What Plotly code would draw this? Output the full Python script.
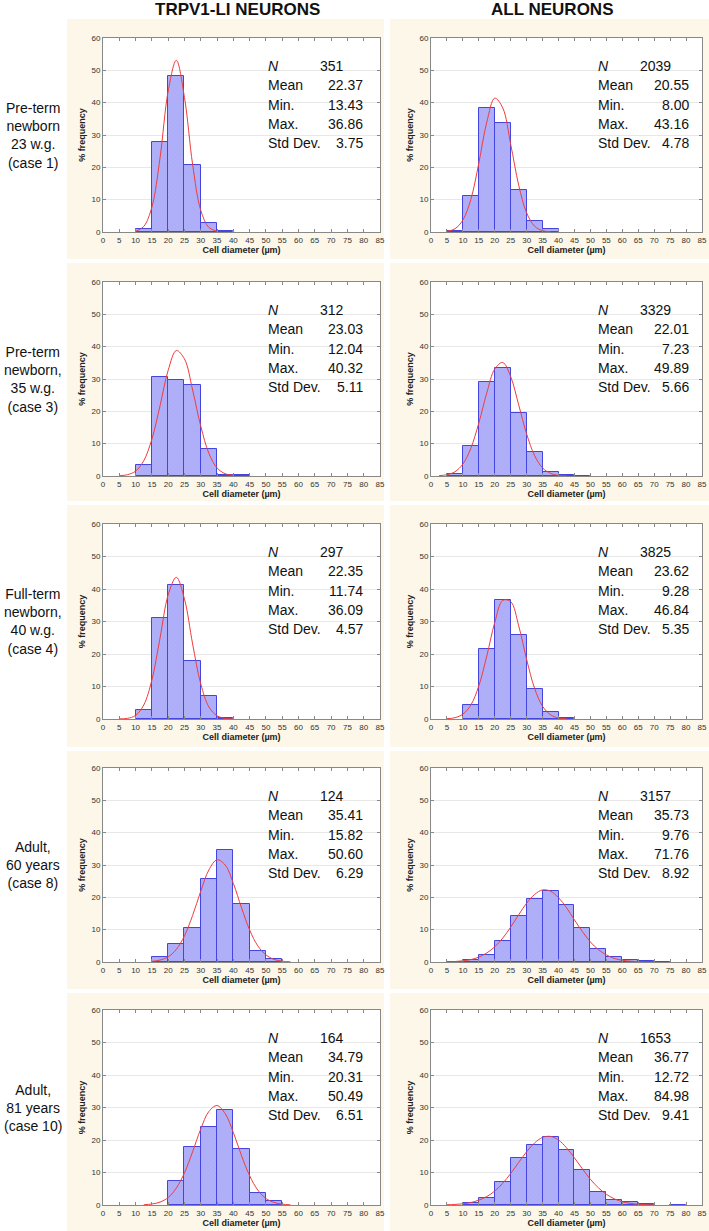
import plotly.graph_objects as go

o = None

# histogram bins (µm), 5 µm wide, 0-85
bin_mid = [2.5, 7.5, 12.5, 17.5, 22.5, 27.5, 32.5, 37.5, 42.5, 47.5,
           52.5, 57.5, 62.5, 67.5, 72.5, 77.5, 82.5]
x_ticks = [0, 5, 10, 15, 20, 25, 30, 35, 40, 45, 50, 55, 60, 65, 70, 75, 80, 85]
y_ticks = [0, 10, 20, 30, 40, 50, 60]

# % frequency per bin
trpv1_23wg = [0, 0, 0.9, 27.8, 48.1, 20.7, 2.7, 0.3, 0, 0, 0, 0, 0, 0, 0, 0, 0]
all_23wg = [0, 0.3, 11.0, 38.2, 33.6, 13.1, 3.5, 0.8, 0, 0, 0, 0, 0, 0, 0, 0, 0]
trpv1_35wg = [0, 0, 3.3, 30.5, 29.6, 28.0, 8.3, 0.3, 0.3, 0, 0, 0, 0, 0, 0, 0, 0]
all_35wg = [0, 0.5, 9.4, 29.0, 33.5, 19.4, 7.4, 1.3, 0.2, 0.1, 0, 0, 0, 0, 0, 0, 0]
trpv1_40wg = [0, 0, 2.8, 31.0, 41.2, 17.8, 7.1, 0.3, 0, 0, 0, 0, 0, 0, 0, 0, 0]
all_40wg = [0, 0, 4.3, 21.6, 36.6, 25.9, 9.1, 2.3, 0.4, 0, 0, 0, 0, 0, 0, 0, 0]
trpv1_60y = [0, 0, 0, 1.6, 5.7, 10.5, 25.8, 34.7, 17.8, 3.3, 0.8, 0, 0, 0, 0, 0, 0]
all_60y = [0, 0.1, 0.5, 2.3, 6.5, 14.3, 19.6, 21.9, 17.7, 10.4, 4.1, 1.5, 0.7, 0.2, 0.05, 0, 0]
trpv1_81y = [0, 0, 0, 0, 7.3, 17.9, 23.9, 29.3, 17.1, 3.7, 1.2, 0, 0, 0, 0, 0, 0]
all_81y = [0, 0, 0.5, 2.3, 7.0, 14.4, 18.6, 20.9, 16.9, 10.8, 4.1, 1.5, 0.8, 0.3, 0, 0.15, 0]

curve_x = [0, 2.5, 5, 7.5, 10, 12.5, 15, 17.5, 20, 22.5, 25, 27.5, 30, 32.5, 35,
           37.5, 40, 42.5, 45, 47.5, 50, 52.5, 55, 57.5, 60, 62.5, 65, 67.5, 70, 72.5]
fit_trpv1_23wg = [o, o, o, o, 0.2, 1.7, 7.7, 22.9, 43.6, 53.1, 41.6, 20.9, 6.7, 1.4, 0.2,
                  o, o, o, o, o, o, o, o, o, o, o, o, o, o, o]
fit_all_23wg = [o, o, 0.2, 1.0, 3.7, 10.1, 21.3, 34.0, 41.4, 38.4, 27.1, 14.5, 5.9, 1.8, 0.4,
                0.1, o, o, o, o, o, o, o, o, o, o, o, o, o, o]
fit_trpv1_35wg = [o, o, 0.1, 0.4, 1.5, 4.7, 11.4, 21.7, 32.7, 38.8, 36.2, 26.6, 15.4, 7.0, 2.5,
                  0.7, 0.2, o, o, o, o, o, o, o, o, o, o, o, o, o]
fit_all_35wg = [o, 0.1, 0.4, 1.3, 3.7, 8.6, 16.4, 25.7, 33.1, 35.1, 30.7, 22.0, 13.0, 6.3, 2.5,
                0.8, 0.2, 0.05, o, o, o, o, o, o, o, o, o, o, o, o]
fit_trpv1_40wg = [o, o, 0.03, 0.2, 1.1, 4.3, 12.0, 24.9, 38.2, 43.6, 36.9, 23.1, 10.8, 3.7, 1.0,
                  0.2, 0.02, o, o, o, o, o, o, o, o, o, o, o, o, o]
fit_all_40wg = [o, o, 0.1, 0.4, 1.5, 4.3, 10.2, 19.4, 29.7, 36.5, 36.1, 28.7, 18.3, 9.4, 3.9,
                1.3, 0.3, 0.07, o, o, o, o, o, o, o, o, o, o, o, o]
fit_trpv1_60y = [o, o, o, o, o, o, 0.2, 0.6, 1.6, 3.9, 8.1, 14.4, 21.9, 28.5, 31.6,
                 30.0, 24.3, 16.8, 9.9, 5.0, 2.2, 0.8, 0.25, 0.07, o, o, o, o, o, o]
fit_all_60y = [o, o, 0.06, 0.15, 0.35, 0.75, 1.5, 2.8, 4.7, 7.4, 10.8, 14.6, 18.2, 20.9, 22.3,
               21.9, 19.9, 16.8, 13.0, 9.4, 6.2, 3.8, 2.2, 1.1, 0.55, 0.25, 0.1, 0.04, 0.02, o]
fit_trpv1_81y = [o, o, o, o, o, 0.09, 0.3, 0.9, 2.3, 5.2, 9.9, 16.4, 23.4, 28.8, 30.6,
                 28.1, 22.3, 15.2, 9.0, 4.6, 2.0, 0.8, 0.25, 0.07, o, o, o, o, o, o]
fit_all_81y = [o, o, 0.07, 0.17, 0.37, 0.76, 1.5, 2.6, 4.3, 6.7, 9.7, 13.1, 16.4, 19.1, 20.8,
               21.1, 20.0, 17.6, 14.5, 11.1, 7.9, 5.3, 3.3, 1.9, 1.0, 0.5, 0.24, 0.1, 0.04, o]

# descriptive statistics shown in each panel
stat_labels = ["<i>N</i>", "Mean", "Min.", "Max.", "Std Dev."]
stat_n = ["351", "2039", "312", "3329", "297", "3825", "124", "3157", "164", "1653"]
stat_mean = ["22.37", "20.55", "23.03", "22.01", "22.35", "23.62", "35.41", "35.73", "34.79", "36.77"]
stat_min = ["13.43", "8.00", "12.04", "7.23", "11.74", "9.28", "15.82", "9.76", "20.31", "12.72"]
stat_max = ["36.86", "43.16", "40.32", "49.89", "36.09", "46.84", "50.60", "71.76", "50.49", "84.98"]
stat_sd = ["3.75", "4.78", "5.11", "5.66", "4.57", "5.35", "6.29", "8.92", "6.51", "9.41"]

col_titles = ["TRPV1-LI NEURONS", "ALL NEURONS"]
row_titles = ["Pre-term<br>newborn<br>23 w.g.<br>(case 1)",
              "Pre-term<br>newborn,<br>35 w.g.<br>(case 3)",
              "Full-term<br>newborn,<br>40 w.g.<br>(case 4)",
              "Adult,<br>60 years<br>(case 8)",
              "Adult,<br>81 years<br>(case 10)"]

bars = [trpv1_23wg, all_23wg, trpv1_35wg, all_35wg, trpv1_40wg, all_40wg,
        trpv1_60y, all_60y, trpv1_81y, all_81y]
fits = [fit_trpv1_23wg, fit_all_23wg, fit_trpv1_35wg, fit_all_35wg, fit_trpv1_40wg,
        fit_all_40wg, fit_trpv1_60y, fit_all_60y, fit_trpv1_81y, fit_all_81y]

W, H = 709, 1231
FONT = "Arial, Liberation Sans, sans-serif"
col_px = [(103, 380), (431, 702)]
row_px = [(38, 232), (282, 476), (524, 719), (768, 962), (1010, 1205)]
cream_cols = [(67, 384), (390, 709)]
cream_rows = [(19, 259), (263, 501), (505, 747), (751, 989), (993, 1231)]

fig = go.Figure()
shapes, annotations = [], []

for (cx0, cx1) in cream_cols:
    for (cy0, cy1) in cream_rows:
        shapes.append(dict(type="rect", xref="paper", yref="paper", layer="below",
                           x0=cx0 / W, x1=cx1 / W, y0=1 - cy1 / H, y1=1 - cy0 / H,
                           fillcolor="#fcf7e8", line=dict(width=0)))

for r in range(5):
    for c in range(2):
        i = r * 2 + c
        k = i + 1
        xa = "x" if k == 1 else f"x{k}"
        ya = "y" if k == 1 else f"y{k}"
        x0, x1 = col_px[c]
        t, b = row_px[r]

        # white plotting area on top of the cream panel
        shapes.append(dict(type="rect", xref=f"{xa} domain", yref=f"{ya} domain",
                           layer="below", x0=0, x1=1, y0=0, y1=1,
                           fillcolor="white", line=dict(width=0)))

        fig.add_trace(go.Bar(
            x=bin_mid, y=[v if v else None for v in bars[i]], width=5,
            xaxis=xa, yaxis=ya, showlegend=False,
            marker=dict(color="#a8a8f8",
                        line=dict(color="#4444e0", width=1),
                        pattern=dict(shape="x", fgcolor="#9494f3", bgcolor="#b0b0f9",
                                     size=3, solidity=0.2)),
        ))
        fig.add_trace(go.Scatter(
            x=curve_x, y=fits[i], mode="lines", line_shape="spline",
            line=dict(color="#f03c3c", width=1), xaxis=xa, yaxis=ya,
            showlegend=False,
        ))

        fig.layout[f"xaxis{k if k > 1 else ''}"] = dict(
            domain=[x0 / W, x1 / W], anchor=ya, range=[0, 85], automargin=False,
            tickvals=x_ticks, ticks="inside", ticklen=3, tickcolor="#888",
            showline=True, linecolor="#888", linewidth=1, mirror="ticks",
            showgrid=False, zeroline=False, ticklabeloverflow="allow",
            tickfont=dict(size=8, color="#333", family=FONT),
            title=dict(text="<b>Cell diameter (µm)</b>", standoff=2,
                       font=dict(size=9, color="#222", family=FONT)),
        )
        fig.layout[f"yaxis{k if k > 1 else ''}"] = dict(
            domain=[1 - b / H, 1 - t / H], anchor=xa, range=[0, 60], automargin=False,
            tickvals=y_ticks, ticks="inside", ticklen=3, tickcolor="#888",
            showline=True, linecolor="#888", linewidth=1, mirror="ticks",
            showgrid=True, gridcolor="#e8e8e8", zeroline=False,
            tickfont=dict(size=8, color="#333", family=FONT),
            title=dict(text="<b>% frequency</b>", standoff=4,
                       font=dict(size=9, color="#222", family=FONT)),
        )

        values = [stat_n[i], stat_mean[i], stat_min[i], stat_max[i], stat_sd[i]]
        lab_x = 0.59 if c == 0 else 0.61
        val_x = 0.945 if c == 0 else 0.96
        n_x = 0.776 if c == 0 else 0.764
        for j in range(5):
            yy = 1 - (28 + 19.3 * j) / (b - t)
            annotations.append(dict(
                xref=f"{xa} domain", yref=f"{ya} domain", x=lab_x, y=yy,
                xanchor="left", yanchor="middle", showarrow=False,
                text=stat_labels[j], font=dict(size=14, color="#111", family=FONT)))
            annotations.append(dict(
                xref=f"{xa} domain", yref=f"{ya} domain",
                x=n_x if j == 0 else val_x, y=yy,
                xanchor="left" if j == 0 else "right", yanchor="middle",
                showarrow=False, text=values[j],
                font=dict(size=14, color="#111", family=FONT)))

for r in range(5):
    t, b = row_px[r]
    annotations.append(dict(
        xref="paper", yref="paper", x=33 / W, y=1 - (t + b) / 2 / H,
        xanchor="center", yanchor="middle", showarrow=False, align="center",
        text=row_titles[r], font=dict(size=14, color="#111", family=FONT)))

for c, xc in enumerate([237, 552]):
    annotations.append(dict(
        xref="paper", yref="paper", x=xc / W, y=1 - 9 / H,
        xanchor="center", yanchor="middle", showarrow=False,
        text=f"<b>{col_titles[c]}</b>", font=dict(size=17, color="#111", family=FONT)))

fig.update_layout(
    width=W, height=H, margin=dict(l=0, r=0, t=0, b=0),
    paper_bgcolor="white", plot_bgcolor="white",
    bargap=0, shapes=shapes, annotations=annotations,
)

# drop the browser's default page margin so the figure sits at the top-left corner
fig.write_html("out.html", config={"displayModeBar": False},
               post_script="document.body.style.margin='0';document.body.style.overflow='hidden';")
